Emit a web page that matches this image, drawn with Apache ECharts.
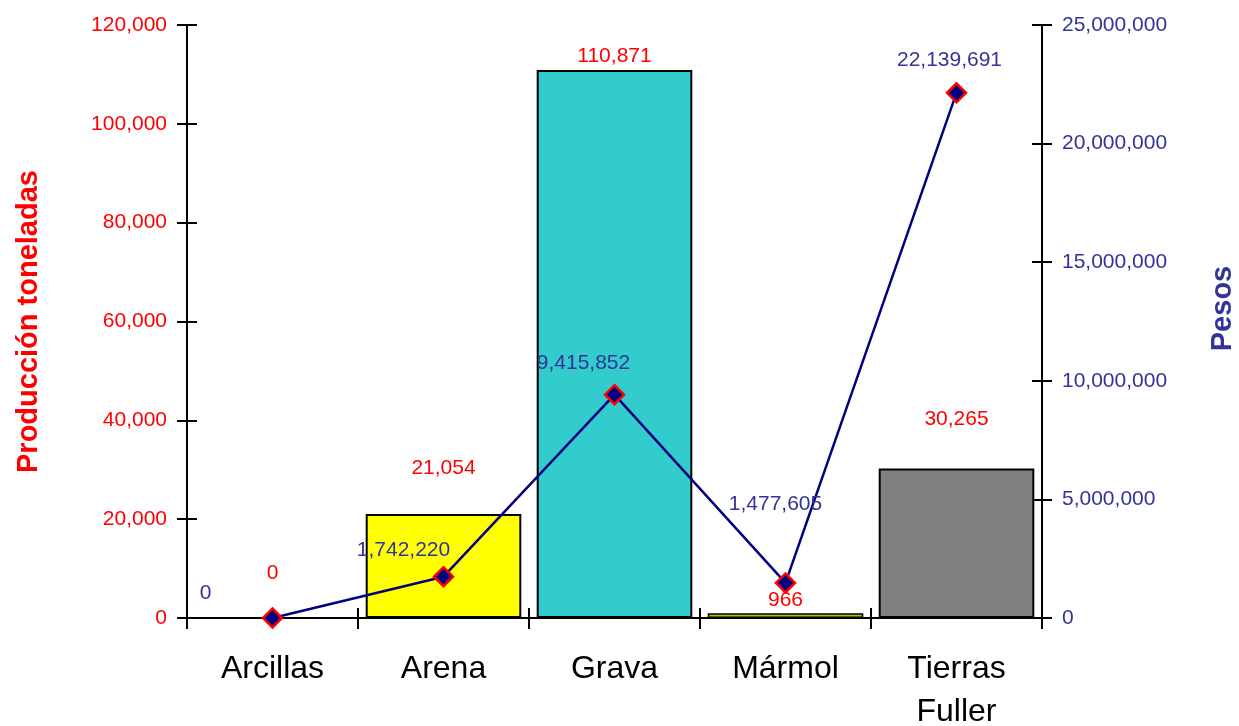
<!DOCTYPE html>
<html>
<head>
<meta charset="utf-8">
<script src="https://cdn.jsdelivr.net/npm/echarts@6/dist/echarts.min.js"></script>
<style>html,body{margin:0;padding:0;background:#fff;}#c{width:1239px;height:726px;}</style>
</head>
<body>
<div id="c"></div>
<script>
const categories = ['Arcillas', 'Arena', 'Grava', 'Mármol', 'Tierras Fuller'];
const produccion = [0, 21054, 110871, 966, 30265];
const pesos = [0, 1742220, 9415852, 1477605, 22139691];
const barColors = ['#FFFF00', '#FFFF00', '#33CCCC', '#99CC00', '#808080'];
const barLabelOffsets = [-29, -30, 2, 2, -34];
const lineLabelOffsets = [[-67, -25], [-40, -26], [-31, -31], [-10, -79], [-7, -33]];

const FONT = '"Liberation Sans", Arial, sans-serif';
const fmt = v => Math.round(v).toLocaleString('en-US');

const chart = echarts.init(document.getElementById('c'));
const yBase = {
  type: 'value',
  axisLine: { show: true, lineStyle: { color: '#000', width: 2 } },
  splitLine: { show: false }
};
chart.setOption({
  animation: false,
  backgroundColor: '#fff',
  grid: { left: 187, right: 197, top: 25, bottom: 108, containLabel: false, outerBoundsMode: 'none' },
  xAxis: [
    {
      type: 'category', data: categories, position: 'bottom',
      axisLine: { lineStyle: { color: '#000', width: 2 } },
      axisTick: { show: true, length: 11, lineStyle: { color: '#000', width: 2 } },
      axisLabel: {
        color: '#000', fontFamily: FONT, fontSize: 32, margin: 30, lineHeight: 43,
        formatter: v => v.replace(' ', '\n')
      }
    },
    {
      type: 'category', data: categories, position: 'bottom',
      axisLine: { show: false },
      axisTick: { show: true, inside: true, length: 10, lineStyle: { color: '#000', width: 2 } },
      axisLabel: { show: false }
    }
  ],
  yAxis: [
    Object.assign({}, yBase, {
      position: 'left', min: 0, max: 120000, interval: 20000,
      axisTick: { show: true, length: 10, lineStyle: { color: '#000', width: 2 } },
      axisLabel: { color: '#FF0000', fontFamily: FONT, fontSize: 21, margin: 20, formatter: fmt },
      name: 'Producción toneladas', nameLocation: 'middle', nameGap: 144,
      nameTextStyle: { color: '#FF0000', fontFamily: FONT, fontSize: 29, fontWeight: 'bold' }
    }),
    Object.assign({}, yBase, {
      position: 'right', min: 0, max: 25000000, interval: 5000000,
      axisTick: { show: true, length: 10, lineStyle: { color: '#000', width: 2 } },
      axisLabel: { color: '#333399', fontFamily: FONT, fontSize: 21, margin: 20, formatter: fmt },
      name: 'Pesos', nameLocation: 'middle', nameGap: 166, nameRotate: 90,
      nameTextStyle: { color: '#333399', fontFamily: FONT, fontSize: 29, fontWeight: 'bold', padding: [0, 0, 0, 26] }
    }),
    Object.assign({}, yBase, {
      position: 'left', min: 0, max: 120000, interval: 20000,
      axisLine: { show: false },
      axisTick: { show: true, inside: true, length: 10, lineStyle: { color: '#000', width: 2 } },
      axisLabel: { show: false }
    }),
    Object.assign({}, yBase, {
      position: 'right', min: 0, max: 25000000, interval: 5000000,
      axisLine: { show: false },
      axisTick: { show: true, inside: true, length: 10, lineStyle: { color: '#000', width: 2 } },
      axisLabel: { show: false }
    })
  ],
  series: [
    {
      type: 'bar', name: 'Producción', xAxisIndex: 0, yAxisIndex: 0,
      barCategoryGap: '9%',
      data: produccion.map((v, i) => ({
        value: v,
        itemStyle: { color: barColors[i], borderColor: '#000', borderWidth: v < 2000 ? 1.5 : 2 },
        label: { offset: [0, barLabelOffsets[i]] }
      })),
      label: {
        show: true, position: 'top', distance: 5, color: '#FF0000',
        fontFamily: FONT, fontSize: 21, formatter: p => fmt(p.value)
      },
      z: 2
    },
    {
      type: 'line', name: 'Pesos', xAxisIndex: 0, yAxisIndex: 1,
      data: pesos.map((v, i) => ({
        value: v,
        label: { offset: lineLabelOffsets[i] }
      })),
      lineStyle: { color: '#000080', width: 2.5 },
      symbol: 'diamond', symbolSize: 19,
      itemStyle: { color: '#000080', borderColor: '#FF0000', borderWidth: 2.5 },
      label: {
        show: true, position: 'inside', color: '#333399',
        fontFamily: FONT, fontSize: 21, formatter: p => fmt(p.value)
      },
      z: 3
    }
  ]
});
</script>
</body>
</html>
